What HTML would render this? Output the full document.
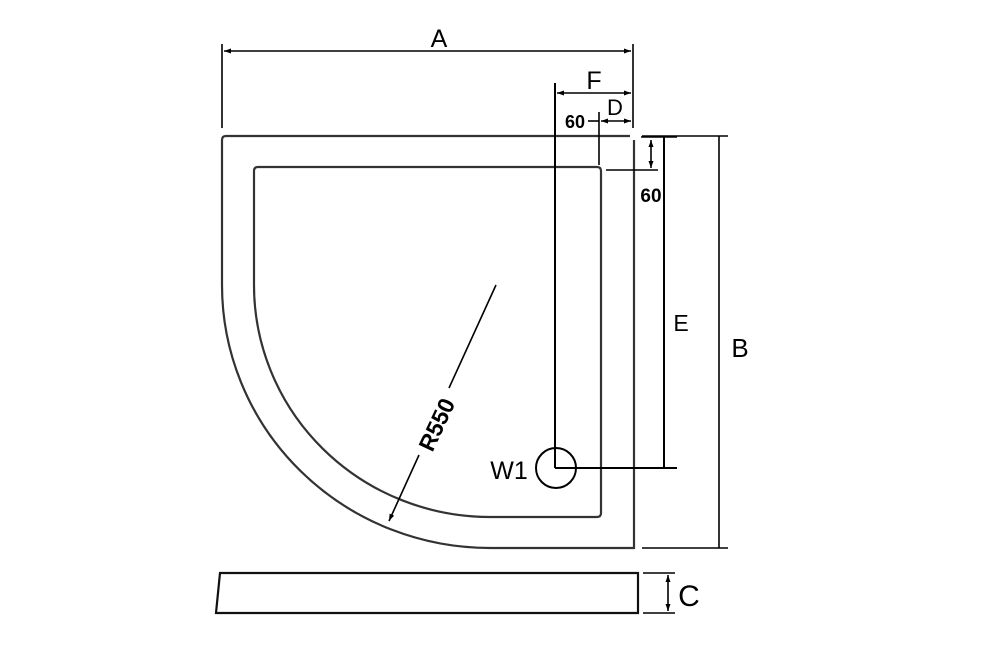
<!DOCTYPE html>
<html><head><style>body{margin:0;background:#fff}svg{display:block}text{font-family:"Liberation Sans",sans-serif;fill:#000}</style></head><body>
<svg width="1001" height="656" viewBox="0 0 1001 656" xmlns="http://www.w3.org/2000/svg">
<defs><marker id="ar" markerWidth="8" markerHeight="8" refX="7" refY="4" orient="auto-start-reverse" markerUnits="userSpaceOnUse"><path d="M0,1.5 L7,4 L0,6.5 Z" fill="#000"/></marker></defs>
<g fill="none" stroke="#333" stroke-width="2.2">
<path d="M222,285 L222,140 Q222,136 226,136 L630,136 M634,140 L634,548 L490,548 A268,263 0 0 1 222,285"/>
<path d="M254,285 L254,171 Q254,167 258,167 L597,167 Q601,167 601,171 L601,513 Q601,517 597,517 L490,517 A236,232 0 0 1 254,285"/>
<path d="M220,573 L638,573 L638,613 L216,613 Z" stroke="#111"/>
</g>
<g stroke="#000" stroke-width="1.6" fill="none">
<line x1="222" y1="44" x2="222" y2="128"/><line x1="633" y1="44" x2="633" y2="128"/>
<line x1="224" y1="51" x2="631" y2="51" marker-start="url(#ar)" marker-end="url(#ar)"/>
<line x1="555" y1="83" x2="555" y2="468" stroke-width="2"/>
<line x1="557" y1="93" x2="631" y2="93" marker-start="url(#ar)" marker-end="url(#ar)"/>
<line x1="588" y1="121" x2="599" y2="121"/>
<line x1="601" y1="121" x2="631" y2="121" marker-start="url(#ar)" marker-end="url(#ar)"/>
<line x1="599" y1="112" x2="599" y2="165"/>
<line x1="606" y1="170" x2="658" y2="170"/>
<line x1="651" y1="140" x2="651" y2="168" marker-start="url(#ar)" marker-end="url(#ar)"/>
<line x1="641" y1="137" x2="677" y2="137"/>
<line x1="664" y1="137" x2="664" y2="468" stroke-width="2"/>
<line x1="555" y1="468" x2="677" y2="468" stroke-width="2"/>
<line x1="642" y1="136" x2="728" y2="136"/><line x1="642" y1="548" x2="728" y2="548"/>
<line x1="719" y1="136" x2="719" y2="548"/>
<line x1="643" y1="573" x2="675" y2="573"/><line x1="643" y1="613" x2="675" y2="613"/>
<line x1="668" y1="575" x2="668" y2="611" marker-start="url(#ar)" marker-end="url(#ar)"/>
<circle cx="556" cy="468" r="20" stroke-width="2"/>
<line x1="496" y1="285" x2="449" y2="388"/>
<line x1="419" y1="455" x2="389" y2="521" marker-end="url(#ar)"/>
</g>
<text x="439" y="47" font-size="25" text-anchor="middle">A</text>
<text x="594" y="89" font-size="25" text-anchor="middle">F</text>
<text x="615" y="115" font-size="22" text-anchor="middle">D</text>
<text x="575" y="128" font-size="18" text-anchor="middle" font-weight="bold">60</text>
<text x="651" y="202" font-size="19" text-anchor="middle" font-weight="bold">60</text>
<text x="681" y="331" font-size="23" text-anchor="middle">E</text>
<text x="740" y="357" font-size="26" text-anchor="middle">B</text>
<text x="689" y="606" font-size="30" text-anchor="middle">C</text>
<text x="509" y="479" font-size="25" text-anchor="middle">W1</text>
<text x="0" y="0" font-size="23" font-weight="bold" text-anchor="middle" transform="translate(444,428) rotate(-65)">R550</text>
</svg>
</body></html>
